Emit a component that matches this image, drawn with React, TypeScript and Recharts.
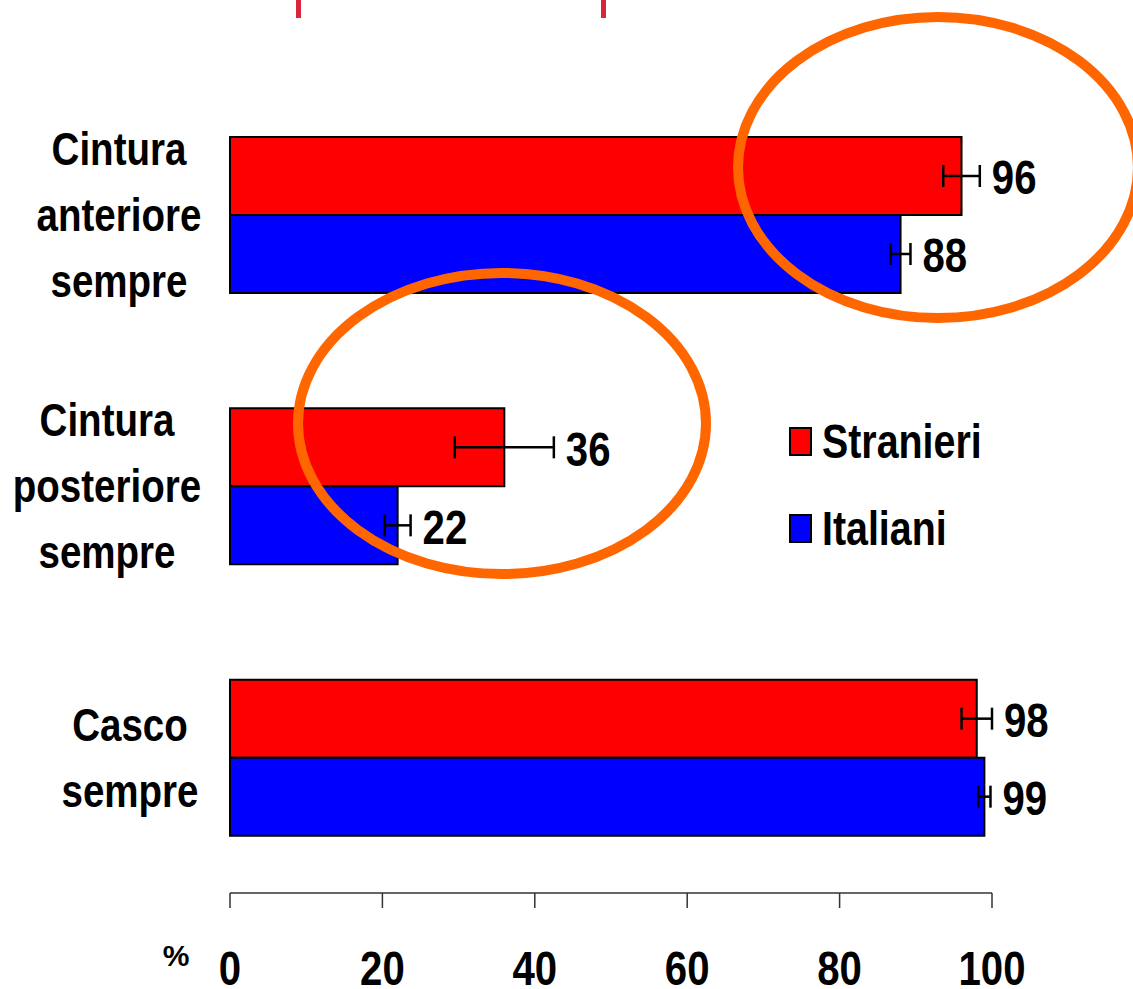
import { BarChart, Bar, XAxis, YAxis, ErrorBar, LabelList } from 'recharts';

const categories = ['Cintura\nanteriore\nsempre', 'Cintura\nposteriore\nsempre', 'Casco\nsempre'];
const stranieri = [96, 36, 98];
const italiani = [88, 22, 99];
const stranieriErr = [2.4, 6.5, 2.0];
const italianiErr = [1.3, 1.7, 0.8];
const xTicks = [0, 20, 40, 60, 80, 100];
const seriesNames = ['Stranieri', 'Italiani'];

const data = categories.map((category, i) => ({
  category,
  stranieri: stranieri[i],
  italiani: italiani[i],
  errS: stranieriErr[i],
  errI: italianiErr[i],
}));

const FONT = '"Liberation Sans", Arial, sans-serif';
const NARROW = 0.82; // fake Arial Narrow by squeezing Liberation Sans
const RED = '#FF0000';
const BLUE = '#0000FF';
const ORANGE = '#FF6600';

// horizontal centre of each category label block
const labelCenters = [119, 107, 130];

function NarrowText({ x, y, anchor = 'start', size, children }: any) {
  return (
    <g transform={`translate(${x},${y}) scale(${NARROW},1)`}>
      <text
        x={0}
        y={0}
        textAnchor={anchor}
        dominantBaseline="central"
        fontFamily={FONT}
        fontWeight="bold"
        fontSize={size}
        fill="#000"
      >
        {children}
      </text>
    </g>
  );
}

function CategoryTick({ y, payload, index }: any) {
  const lines = String(payload.value).split('\n');
  const cx = labelCenters[index] ?? 118;
  const step = 66;
  const start = y - ((lines.length - 1) * step) / 2;
  return (
    <g>
      {lines.map((line, i) => (
        <NarrowText key={i} x={cx} y={start + i * step} anchor="middle" size={47}>
          {line}
        </NarrowText>
      ))}
    </g>
  );
}

function ValueTick({ x, y, payload }: any) {
  return (
    <NarrowText x={x} y={y + 58} anchor="middle" size={49}>
      {payload.value}
    </NarrowText>
  );
}

function makeValueLabel(errs: number[]) {
  return (props: any) => {
    const { x, y, width, height, value, index } = props;
    const err = errs[index] ?? 0;
    const end = x + width * (1 + err / value);
    return (
      <NarrowText x={end + 12} y={y + height / 2 + 1} size={49}>
        {value}
      </NarrowText>
    );
  };
}

function LegendBox() {
  const colors = [RED, BLUE];
  return (
    <div
      style={{
        position: 'absolute',
        left: 789,
        top: 398,
        fontFamily: FONT,
        fontWeight: 'bold',
        fontSize: 48,
        color: '#000',
      }}
    >
      {seriesNames.map((name, i) => (
        <div key={name} style={{ display: 'flex', alignItems: 'center', height: 87 }}>
          <span
            style={{
              display: 'inline-block',
              width: 19,
              height: 25,
              background: colors[i],
              border: '2px solid #000',
              marginRight: 10,
              flex: 'none',
            }}
          />
          <span style={{ display: 'inline-block', transform: `scaleX(${NARROW})`, transformOrigin: 'left center', lineHeight: 1 }}>
            {name}
          </span>
        </div>
      ))}
    </div>
  );
}

export default function App() {
  return (
    <div style={{ position: 'absolute', left: 0, top: 0, width: 1133, height: 989, background: '#fff', overflow: 'hidden' }}>
      <BarChart
        width={1133}
        height={989}
        data={data}
        layout="vertical"
        margin={{ top: 79, right: 141, bottom: 6, left: 10 }}
        barCategoryGap={58}
        barGap={0}
      >
        <XAxis
          type="number"
          domain={[0, 100]}
          ticks={xTicks}
          height={90}
          tickSize={15}
          stroke="#333"
          strokeWidth={1.5}
          tick={<ValueTick />}
        />
        <YAxis
          type="category"
          dataKey="category"
          width={220}
          axisLine={false}
          tickLine={false}
          tick={<CategoryTick />}
        />
        <Bar dataKey="stranieri" name={seriesNames[0]} fill={RED} stroke="#000" strokeWidth={2} isAnimationActive={false}>
          <ErrorBar dataKey="errS" direction="x" width={11} stroke="#000" strokeWidth={2.5} />
          <LabelList dataKey="stranieri" content={makeValueLabel(stranieriErr)} />
        </Bar>
        <Bar dataKey="italiani" name={seriesNames[1]} fill={BLUE} stroke="#000" strokeWidth={2} isAnimationActive={false}>
          <ErrorBar dataKey="errI" direction="x" width={11} stroke="#000" strokeWidth={2.5} />
          <LabelList dataKey="italiani" content={makeValueLabel(italianiErr)} />
        </Bar>
      </BarChart>
      <LegendBox />
      <svg
        width={1133}
        height={989}
        style={{ position: 'absolute', left: 0, top: 0, pointerEvents: 'none' }}
      >
        <rect x={296} y={0} width={5} height={18} fill="#D9263A" />
        <rect x={601} y={0} width={5} height={18} fill="#D9263A" />
        <ellipse cx={938} cy={167.5} rx={200} ry={150.5} fill="none" stroke={ORANGE} strokeWidth={10} />
        <ellipse cx={502} cy={423.5} rx={204} ry={150.5} fill="none" stroke={ORANGE} strokeWidth={10} />
        <text x={176} y={955} textAnchor="middle" dominantBaseline="central" fontFamily={FONT} fontWeight="bold" fontSize={30} fill="#000">
          %
        </text>
      </svg>
    </div>
  );
}
